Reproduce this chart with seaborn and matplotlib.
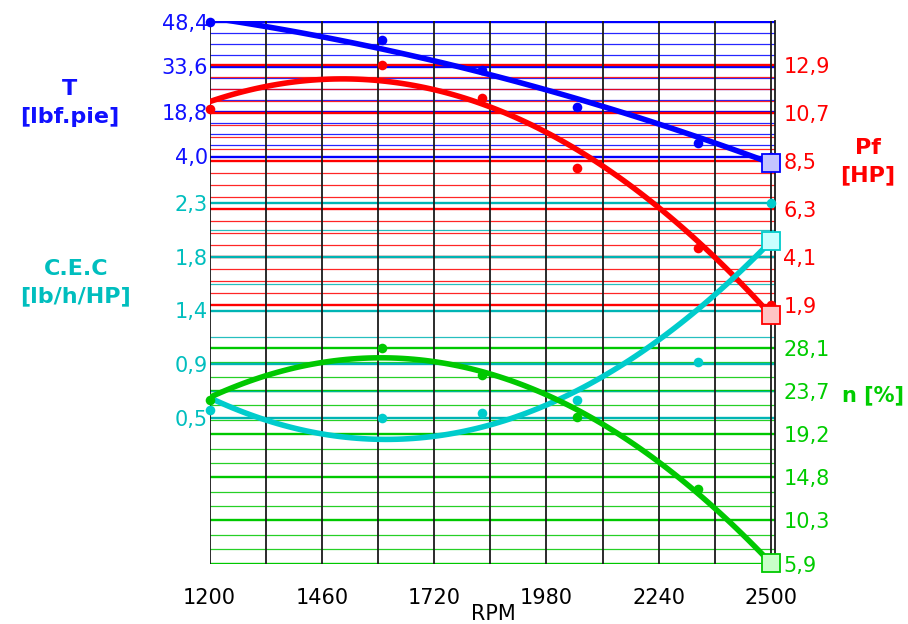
import numpy as np
import pandas as pd
import matplotlib
matplotlib.use("Agg")
import matplotlib.pyplot as plt
import seaborn as sns

# Engine bench readings
rpm = [1200, 1600, 1830, 2050, 2330, 2500]
torque = [48.4, 42.3, 32.4, 20.4, 8.4, 4.0]        # T [lbf.pie]
power = [10.9, 12.9, 11.4, 8.2, 4.5, 1.9]          # Pf [HP]
fuel_rate = [0.57, 0.5, 0.54, 0.65, 0.97, 2.3]     # C.E.C [lb/h/HP]
efficiency = [22.7, 28.1, 25.3, 21.0, 13.6, 5.9]   # n [%]

rpm_labels = ["1200", "1460", "1720", "1980", "2240", "2500"]
torque_labels = ["48,4", "33,6", "18,8", "4,0"]
power_labels = ["12,9", "10,7", "8,5", "6,3", "4,1", "1,9"]
fuel_labels = ["2,3", "1,8", "1,4", "0,9", "0,5"]
eff_labels = ["28,1", "23,7", "19,2", "14,8", "10,3", "5,9"]

# Figure layout in pixels (rows counted from the top)
W, H = 908, 624
AX_L, AX_R, AX_T, AX_B = 209.5, 775.0, 21.0, 564.0
X_FIRST_PX, X_LAST_PX = 209.5, 771.0
RPM_STEP = 130

df = pd.DataFrame({"rpm": rpm, "T": torque, "Pf": power,
                   "CEC": fuel_rate, "n": efficiency})

series = {
    "T": dict(labels=torque_labels, color="#0000FF", grid="#0000FF", text="#1010FF",
              light="#C4C4FF", side="left", rows=(21.5, 156.5), sub=4,
              title="T\n[lbf.pie]", title_xy=(70, 103), title_size=16),
    "Pf": dict(labels=power_labels, color="#FF0000", grid="#FF0000", text="#FF0000",
               light="#FFC4C4", side="right", rows=(65.0, 305.0), sub=4,
               title="Pf\n[HP]", title_xy=(868, 162), title_size=16),
    "CEC": dict(labels=fuel_labels, color="#00CCCC", grid="#00B4B4", text="#00BEBE",
                light="#C8FFFF", side="left", rows=(203.0, 418.0), sub=2,
                title="C.E.C\n[lb/h/HP]", title_xy=(76, 283), title_size=16),
    "n": dict(labels=eff_labels, color="#00C800", grid="#00C800", text="#00CC00",
              light="#C8FFC8", side="right", rows=(348.0, 563.5), sub=3,
              title="n [%]", title_xy=(873, 395), title_size=15),
}


def value_limits(vmin, vmax, row_top, row_bottom):
    per_px = (vmax - vmin) / (row_bottom - row_top)
    return vmin - (AX_B - row_bottom) * per_px, vmax + (row_top - AX_T) * per_px


fig = plt.figure(figsize=(W / 100, H / 100), dpi=100)
base = fig.add_axes([AX_L / W, 1 - AX_B / H, (AX_R - AX_L) / W, (AX_B - AX_T) / H])
px_per_rpm = (X_LAST_PX - X_FIRST_PX) / (rpm[-1] - rpm[0])
xlim = (rpm[0] - (X_FIRST_PX - AX_L) / px_per_rpm,
        rpm[-1] + (AX_R - X_LAST_PX) / px_per_rpm)
base.set_xlim(*xlim)
base.set_yticks([])
for s in base.spines.values():
    s.set_visible(False)
base.set_xticks([int(v) for v in rpm_labels], rpm_labels)
base.tick_params(axis="x", length=0, pad=17, labelsize=15, colors="black")

limits = {}
for key, spec in series.items():
    vals = df[key]
    limits[key] = value_limits(vals.min(), vals.max(), *spec["rows"])

# Horizontal grid bands, one scale per quantity
grid_axes = []
for key in ["T", "Pf", "n", "CEC"]:
    spec = series[key]
    vals = df[key]
    ax = base.twinx()
    ax.set_ylim(*limits[key])
    n_lab = len(spec["labels"])
    majors = np.linspace(vals.max(), vals.min(), n_lab)
    minors = np.linspace(vals.max(), vals.min(), (n_lab - 1) * spec["sub"] + 1)
    ax.set_yticks(majors, spec["labels"])
    ax.set_yticks(minors, minor=True)
    if spec["side"] == "left":
        ax.yaxis.tick_left()
        pad = 1
    else:
        ax.yaxis.tick_right()
        pad = 6
    ax.tick_params(axis="y", which="both", length=0, pad=pad,
                   labelsize=15, labelcolor=spec["text"])
    ax.grid(which="major", axis="y", color=spec["grid"], lw=1.7)
    ax.grid(which="minor", axis="y", color=spec["grid"], lw=0.9, alpha=0.85)
    for s in ax.spines.values():
        s.set_visible(False)
    grid_axes.append(ax)

# Vertical RPM grid and the right frame on top of the bands
top_grid = grid_axes[-1]
for x in np.arange(rpm[0], rpm[-1] + 1, RPM_STEP):
    top_grid.axvline(x, color="#1A1A1A", lw=1.3, zorder=3)
top_grid.axvline(xlim[1], color="#1A1A1A", lw=1.3, zorder=3, clip_on=False)

# Measured points with second-order regression curves
for key in ["T", "Pf", "CEC", "n"]:
    spec = series[key]
    ax = base.twinx()
    sns.regplot(data=df, x="rpm", y=key, order=2, ci=None, ax=ax,
                color=spec["color"], truncate=True,
                scatter_kws=dict(s=48, alpha=1, linewidths=0, clip_on=False, zorder=4),
                line_kws=dict(lw=4, solid_capstyle="butt", zorder=3))
    line = ax.lines[0]
    xe, ye = line.get_xydata()[-1]
    ax.plot([xe], [ye], marker="s", ms=13, mfc=spec["light"], mec=spec["color"],
            mew=1.3, ls="none", clip_on=False, zorder=6)
    ax.set_ylim(*limits[key])
    ax.set_axis_off()

base.set_xlim(*xlim)

for key, spec in series.items():
    tx, ty = spec["title_xy"]
    fig.text(tx / W, 1 - ty / H, spec["title"], ha="center", va="center",
             fontsize=spec["title_size"], fontweight="bold", color=spec["text"],
             linespacing=1.45)

fig.text(493 / W, 1 - 604 / H, "RPM", ha="center", va="top", fontsize=15, color="black")

fig.savefig("out.png", dpi=100, facecolor="white")
